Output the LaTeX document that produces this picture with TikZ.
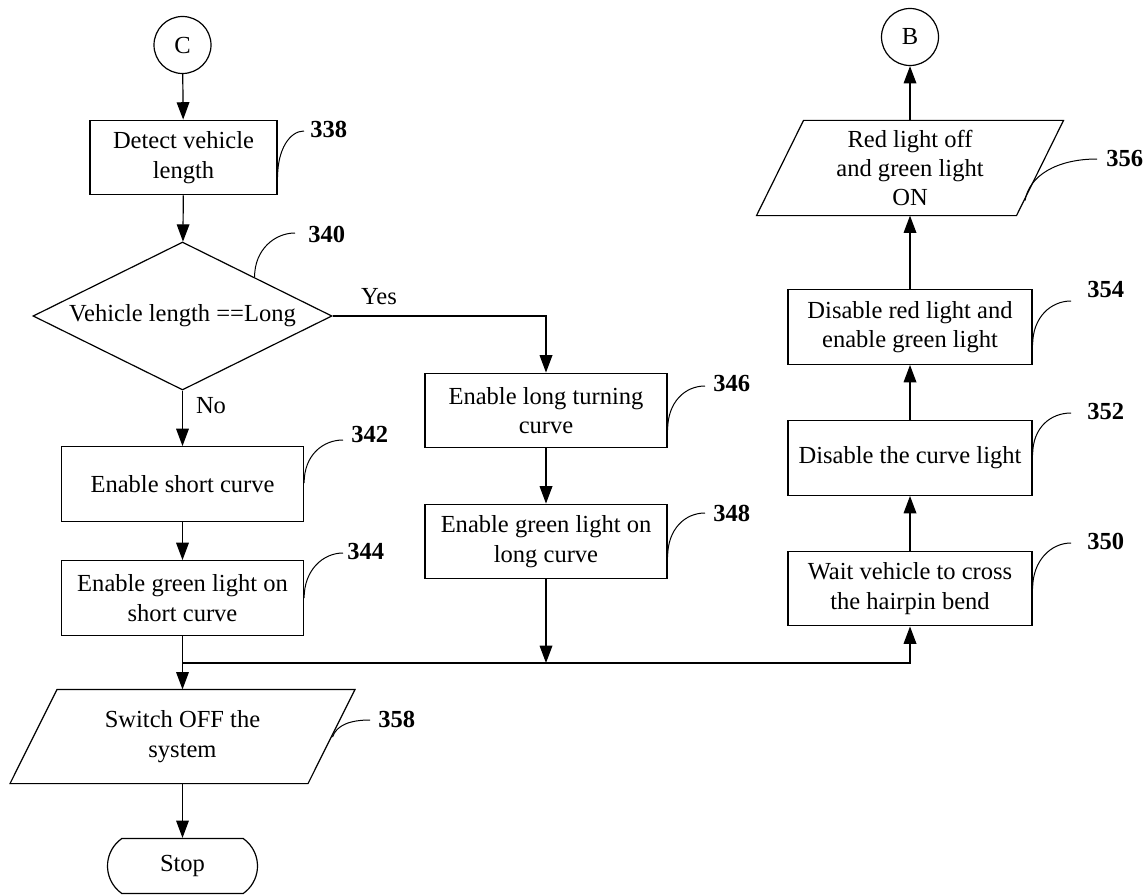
\documentclass[tikz,border=0pt]{standalone}
\usepackage{fontspec}
\setmainfont{Liberation Serif}
\usetikzlibrary{arrows.meta,shapes.geometric,shapes.misc,calc}

\tikzset{
  base/.style={font={\fontsize{18.4}{22}\selectfont}, align=center, inner sep=0pt, line width=0.9pt},
  procbox/.style={base, draw, rectangle, minimum width=181.5pt, minimum height=56pt},
  connector/.style={base, draw, circle, minimum size=42.75pt},
  decision/.style={base, draw, diamond, aspect=2, minimum width=224.25pt, minimum height=111pt},
  iobox/.style={base, rectangle, minimum height=70.5pt},
  terminal/.style={base, draw, rounded rectangle, rounded rectangle arc length=110,
                   minimum width=112.5pt, minimum height=41.25pt},
  outline/.style={line width=0.9pt},
  flow/.style={line width=0.9pt, -{Triangle[length=13pt,width=9.5pt]}},
  leader/.style={line width=0.75pt},
  refnum/.style={font={\fontsize{18.4}{22}\selectfont\bfseries}, inner sep=0pt, anchor=west},
  branch/.style={font={\fontsize{18.4}{22}\selectfont}, inner sep=0pt},
}

\begin{document}
\begin{tikzpicture}[x=0.75pt,y=-0.75pt]
\useasboundingbox (0,0) rectangle (1148,895);

% left column
\node[connector] (c) at (182.5,45) {C};
\node[procbox, minimum width=140.25pt] (n338) at (183.5,157.5) {Detect vehicle\\length};
\node[decision] (d340) at (182.5,316) {Vehicle length ==Long};
\node[procbox] (n342) at (182.5,484) {Enable short curve};
\node[procbox] (n344) at (182.5,598) {Enable green light on\\short curve};
\node[iobox, minimum height=69.75pt] (p358) at (182.5,736.5) {Switch OFF the\\system};
\node[terminal] (stop) at (182.5,866) {Stop};

% middle column
\node[procbox] (n346) at (546,410.5) {Enable long turning\\curve};
\node[procbox] (n348) at (546,541.5) {Enable green light on\\long curve};

% right column
\node[procbox, minimum width=183pt] (n350) at (910,588.5) {Wait vehicle to cross\\the hairpin bend};
\node[procbox, minimum width=183pt] (n352) at (910,458) {Disable the curve light};
\node[procbox, minimum width=183pt] (n354) at (910,327) {Disable red light and\\enable green light};
\node[iobox] (p356) at (910,168) {Red light off\\and green light\\ON};
\node[connector] (b) at (910,37) {B};

% parallelogram outlines of the input/output steps
\draw[outline] ($(p356.south)+(-153.5,0)$) -- ($(p356.south)+(106.5,0)$)
  -- ($(p356.north)+(153.5,0)$) -- ($(p356.north)+(-106.5,0)$) -- cycle;
\draw[outline] ($(p358.south)+(-172.5,0)$) -- ($(p358.south)+(125.5,0)$)
  -- ($(p358.north)+(172.5,0)$) -- ($(p358.north)+(-125.5,0)$) -- cycle;

% junction where the two branches merge
\coordinate (j) at (182.5,663);

% flow lines
\draw[flow] (c) -- (n338);
\draw[flow] (n338) -- (d340);
\draw[flow] (d340.south) -- (n342.north);
\draw[flow] (d340.east) -| (n346.north);
\draw[flow] (n342) -- (n344);
\draw[flow] (n344.south) -- (p358.north);
\draw[flow] (p358.south) -- (stop.north);
\draw[flow] (n346) -- (n348);
\draw[flow] (n348.south) -- (n348.south |- j);
\draw[flow] (j) -| (n350.south);
\draw[flow] (n350) -- (n352);
\draw[flow] (n352) -- (n354);
\draw[flow] (n354.north) -- (p356.south);
\draw[flow] (p356.north) -- (b);

% branch labels
\node[branch] (yes) at (379,297) {Yes};
\node[branch] (no) at (211,406) {No};

% reference numerals
\node[refnum] (l338) at (310,129) {338};
\node[refnum] (l340) at (308,234) {340};
\node[refnum] (l342) at (351,434) {342};
\node[refnum] (l344) at (347,551) {344};
\node[refnum] (l346) at (713,383) {346};
\node[refnum] (l348) at (713,513) {348};
\node[refnum] (l350) at (1087,541) {350};
\node[refnum] (l352) at (1087,411) {352};
\node[refnum] (l354) at (1087,289) {354};
\node[refnum] (l356) at (1106,158) {356};
\node[refnum] (l358) at (378,719) {358};

% leader curves
\draw[leader] ($(n338.east)+(0,19.5)$) .. controls +(0,-28) and +(-14,0) .. ($(l338.west)+(-6,2)$);
\draw[leader] ($(d340.north)!0.48!(d340.east)$) .. controls +(0,-28) and +(-20,0) .. ($(l340.west)+(-13,-1)$);
\draw[leader] ($(n342.east)+(0,-1)$) .. controls +(0,-28) and +(-20,0) .. ($(l342.west)+(-8,6)$);
\draw[leader] (n344.east) .. controls +(0,-28) and +(-20,0) .. ($(l344.west)+(-4,2)$);
\draw[leader] ($(n346.east)+(0,19.5)$) .. controls +(0,-28) and +(-20,0) .. ($(l346.west)+(-8,3)$);
\draw[leader] ($(n348.east)+(0,15.5)$) .. controls +(0,-28) and +(-20,0) .. ($(l348.west)+(-8,0)$);
\draw[leader] (n350.east) .. controls +(0,-28) and +(-20,0) .. ($(l350.west)+(-16,2)$);
\draw[leader] ($(n352.east)+(0,-3)$) .. controls +(0,-28) and +(-20,0) .. ($(l352.west)+(-16,2)$);
\draw[leader] ($(n354.east)+(0,18)$) .. controls +(0,-28) and +(-20,0) .. ($(l354.west)+(-16,12)$);
\draw[leader] ($(p356.south)+(115,-15)$) .. controls +(4,-25) and +(-40,0) .. ($(l356.west)+(-9,1)$);
\draw[leader] ($(p358.south)+(150,-46.5)$) .. controls +(4,-12) and +(-20,0) .. ($(l358.west)+(-8,1)$);
\end{tikzpicture}
\end{document}
